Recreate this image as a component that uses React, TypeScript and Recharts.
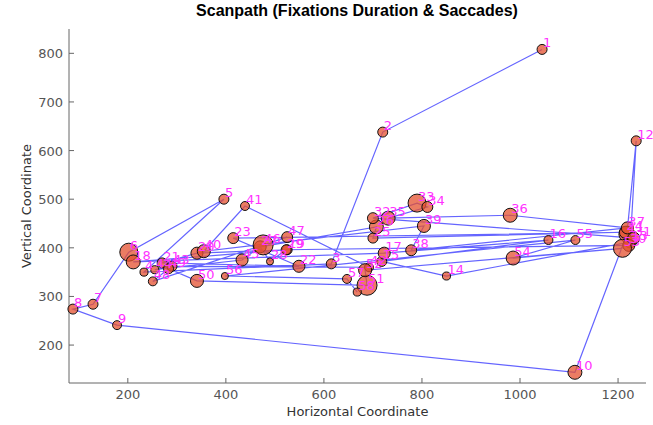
import { Scatter, ScatterChart, XAxis, YAxis } from "recharts";

// fixation order, position (px on stimulus) and duration (ms)
const fixIds = [
  1, 2, 3, 4, 5, 6, 7, 8, 9, 10, 11, 12, 13, 14, 15, 16, 17, 18, 19, 20, 21, 22, 23, 24, 25, 26, 27, 28, 29,
  30, 31, 32, 33, 34, 35, 36, 37, 38, 39, 40, 41, 42, 43, 44, 45, 46, 47, 48, 49, 50, 51, 52, 53, 54, 55, 56,
  57, 58,
];
const fixX = [
  1045, 720, 615, 233, 396, 202, 129, 88, 178, 1112, 1218, 1237, 1225, 850, 718, 1058, 723, 211, 525, 341, 270,
  549, 415, 1215, 700, 707, 470, 490, 523, 1222, 1232, 700, 790, 811, 731, 980, 1219, 778, 804, 355, 439, 692,
  290, 255, 433, 476, 525, 251, 283, 341, 688, 684, 1209, 986, 1113, 398, 647, 668,
];
const fixY = [
  808, 638, 367, 350, 500, 391, 284, 274, 241, 144, 428, 620, 412, 342, 372, 416, 389, 371, 396, 389, 369, 362,
  420, 432, 420, 443, 402, 372, 396, 405, 420, 461, 492, 484, 461, 467, 441, 395, 445, 393, 486, 360, 362, 355,
  375, 406, 422, 331, 357, 332, 323, 354, 399, 379, 416, 342, 336, 309,
];
const fixDur = [
  200, 200, 200, 130, 200, 650, 200, 200, 160, 390, 510, 200, 290, 130, 200, 160, 290, 390, 200, 290, 200, 290,
  240, 290, 200, 390, 290, 100, 200, 290, 290, 240, 650, 240, 390, 390, 290, 240, 340, 340, 160, 160, 200, 130,
  290, 800, 240, 160, 200, 340, 800, 340, 650, 390, 160, 100, 160, 130,
];

const xTicks = [200, 400, 600, 800, 1000, 1200];
const yTicks = [200, 300, 400, 500, 600, 700, 800];

const points = fixIds.map((id, i) => ({ id, x: fixX[i], y: fixY[i], dur: fixDur[i] }));

const FONT = "DejaVu Sans";
const AXIS_GREY = "#666";

const FixationDot = (p: any) => (
  <circle
    cx={p.cx}
    cy={p.cy}
    r={Math.sqrt(p.payload.dur / 8)}
    fill="#e4502f"
    fillOpacity={0.75}
    stroke="#111"
    strokeWidth={1}
  />
);

const FixationLabel = (p: any) => (
  <text x={p.cx + 1} y={p.cy - 2} fill="#ff33ff" fontSize={13} fontFamily={FONT}>
    {p.payload.id}
  </text>
);

// ticks drawn inward (matlab style)
const BottomTick = ({ x, y, payload }: any) => (
  <g>
    <line x1={x} x2={x} y1={y} y2={y - 5} stroke={AXIS_GREY} />
    <text x={x} y={y + 16} textAnchor="middle" fill="#555" fontSize={13} fontFamily={FONT}>
      {payload.value}
    </text>
  </g>
);
const TopTick = ({ x, y }: any) => <line x1={x} x2={x} y1={y} y2={y + 5} stroke={AXIS_GREY} />;
const LeftTick = ({ x, y, payload }: any) => (
  <g>
    <line x1={x} x2={x + 5} y1={y} y2={y} stroke={AXIS_GREY} />
    <text x={x - 6} y={y + 5} textAnchor="end" fill="#555" fontSize={13} fontFamily={FONT}>
      {payload.value}
    </text>
  </g>
);
const RightTick = ({ x, y }: any) => <line x1={x} x2={x - 5} y1={y} y2={y} stroke={AXIS_GREY} />;

export default function App() {
  return (
    <div style={{ position: "absolute", left: 0, top: 0, width: 653, height: 425, background: "#fff" }}>
      <div
        style={{
          position: "absolute",
          left: 0,
          width: 714,
          top: 2,
          textAlign: "center",
          fontFamily: "Liberation Sans",
          fontWeight: "bold",
          fontSize: 16,
          color: "#000",
        }}
      >
        Scanpath (Fixations Duration &amp; Saccades)
      </div>
      <div
        style={{
          position: "absolute",
          left: 69,
          width: 577,
          top: 404,
          textAlign: "center",
          fontFamily: FONT,
          fontSize: 13,
          color: "#333",
        }}
      >
        Horizontal Coordinate
      </div>
      <div
        style={{
          position: "absolute",
          left: 26,
          top: 206,
          transform: "translate(-50%, -50%) rotate(-90deg)",
          whiteSpace: "nowrap",
          fontFamily: FONT,
          fontSize: 13,
          color: "#333",
        }}
      >
        Vertical Coordinate
      </div>
      <div style={{ position: "absolute", left: 0, top: 0 }}>
        <ScatterChart width={653} height={425} margin={{ top: 29, right: 7, bottom: 12, left: 19 }}>
          <XAxis
            xAxisId="b"
            type="number"
            dataKey="x"
            domain={[80, 1257]}
            ticks={xTicks}
            height={30}
            tickSize={0}
            tickMargin={0}
            tickLine={false}
            axisLine={{ stroke: AXIS_GREY }}
            tick={<BottomTick />}
          />
          <XAxis
            xAxisId="t"
            orientation="top"
            type="number"
            dataKey="x"
            domain={[80, 1257]}
            ticks={xTicks}
            height={0}
            tickSize={0}
            tickMargin={0}
            tickLine={false}
            axisLine={{ stroke: AXIS_GREY }}
            tick={<TopTick />}
          />
          <YAxis
            yAxisId="l"
            type="number"
            dataKey="y"
            domain={[122, 850]}
            ticks={yTicks}
            width={50}
            tickSize={0}
            tickMargin={0}
            tickLine={false}
            axisLine={{ stroke: AXIS_GREY }}
            tick={<LeftTick />}
          />
          <YAxis
            yAxisId="r"
            orientation="right"
            type="number"
            dataKey="y"
            domain={[122, 850]}
            ticks={yTicks}
            width={0}
            tickSize={0}
            tickMargin={0}
            tickLine={false}
            axisLine={{ stroke: AXIS_GREY }}
            tick={<RightTick />}
          />
          <Scatter
            xAxisId="b"
            yAxisId="l"
            data={points}
            line={{ stroke: "#3030ff", strokeOpacity: 0.75, strokeWidth: 1.2 }}
            lineType="joint"
            shape={FixationDot}
            isAnimationActive={false}
          />
          <Scatter
            xAxisId="b"
            yAxisId="l"
            data={points}
            shape={FixationLabel}
            isAnimationActive={false}
          />
        </ScatterChart>
      </div>
    </div>
  );
}
